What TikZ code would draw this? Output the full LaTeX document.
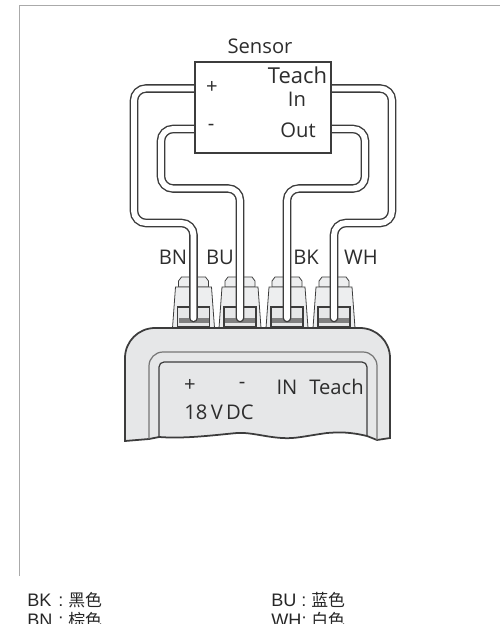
\documentclass[tikz,border=0pt]{standalone}
\usepackage{fontspec}
\setmainfont{Open Sans}
\newfontfamily\legendFont{Liberation Sans}
\newfontfamily\cjkFont{Noto Sans CJK SC}
\usetikzlibrary{positioning,backgrounds}
\definecolor{frameColor}{RGB}{170,170,170}
\definecolor{lineColor}{RGB}{60,60,60}
\definecolor{baseColor}{RGB}{230,231,232}
\definecolor{textColor}{RGB}{45,45,45}
\tikzstyle{diagram} = [x = .02cm, y = -.02cm]
\tikzstyle{frameLine} = [color=frameColor, line width=.8pt]
\tikzstyle{wireStyle} = [color=lineColor, double=white, double distance=3.3pt, line width=.8pt, rounded corners = .24cm, line cap=round]
\tikzstyle{sensorStyle} = [draw=lineColor, fill=white, line width=.8pt, minimum width=2.72cm, minimum height=1.82cm, inner sep=0pt]
\tikzstyle{baseLine} = [color=lineColor, fill=baseColor, line width=1pt]
\tikzstyle{grooveLine} = [color=lineColor, line width=.7pt]
\tikzstyle{plugBody} = [color=lineColor, fill=baseColor!70!white, line width=.45pt]
\tikzstyle{wireLabel} = [font=\fontsize{11.5}{12}\selectfont, text=textColor, inner sep=0pt]
\tikzstyle{legendText} = [font=\legendFont\fontsize{10.3}{11}\selectfont, text=black!85, inner sep=0pt, anchor=base west]
\tikzstyle{legendColour} = [font=\cjkFont\fontsize{9.6}{11}\selectfont, text=black!85, inner sep=0pt, anchor=base west]
\newcommand{\plug}[1]{
  \begin{scope}[shift={(#1,0)}]
    \filldraw [plugBody] (-15,287) -- (-15,281) -- (-12,277) -- (12,277) -- (15,281) -- (15,287) -- cycle;
    \filldraw [plugBody] (-18,287) -- (18,287) -- (21,328) -- (-21,328) -- cycle;
    \filldraw [plugBody, line width=.7pt, fill=baseColor] (-16,307) rectangle (16,327);
    \fill [color=black!50] (-15,318) rectangle (15,323);
  \end{scope}
}
\begin{document}
\begin{tikzpicture}[diagram]
  \useasboundingbox (0,0) rectangle (500,624);
  \draw [frameLine] (19.5,576) -- (19.5,5.5) -- (500,5.5);
  % sensor
  \node [sensorStyle] (sensor) at (263,107.5) {};
  \node [wireLabel] (sensorTitle) at (260,46) {Sensor};
  \node [wireLabel] (plusOut) at (212,87) {+};
  \node [wireLabel] (minusOut) at (211,127) {-};
  \node [wireLabel, font=\fontsize{12.5}{13}\selectfont] (teachOut) at (297.5,75) {Teach};
  \node [wireLabel] (inOut) at (297,99) {In};
  \node [wireLabel] (outOut) at (298,130) {Out};
  \coordinate (plusStart) at (sensor.west |- 0,88.5);
  \coordinate (minusStart) at (sensor.west |- 0,129);
  \coordinate (teachStart) at (sensor.east |- 0,88.5);
  \coordinate (outStart) at (sensor.east |- 0,129);
  \begin{scope}[on background layer]
    % connectors behind the wires
    \foreach \plugX in {193.5,240,287,334} {
      \plug{\plugX}
    }
    % base unit
    \filldraw [baseLine] (125,440) -- (125,358) arc (180:270:30) -- (360,328) arc (270:360:30) -- (390,438)
      -- (377,440) -- (367,436) .. controls (350,432) and (340,432) .. (327,433)
      .. controls (305,436) and (295,439) .. (282,438) .. controls (265,437) and (250,432) .. (237,433)
      .. controls (215,435) and (185,439) .. (159,437) -- (149,439) -- (125,441) -- cycle;
    \draw [grooveLine, color=lineColor!70] (149,439) -- (149,366) arc (180:270:14) -- (363,352) arc (270:360:14) -- (377,440);
    \draw [grooveLine] (159,437) -- (159,367) arc (180:270:5) -- (362,362) arc (270:360:5) -- (367,436);
    % wires
    \draw [wireStyle] (plusStart) -| (134,223) -| (193.5,318);
    \draw [wireStyle] (minusStart) -| (161,188.5) -| (240,318);
    \draw [wireStyle] (outStart) -| (365,188.5) -| (287,318);
    \draw [wireStyle] (teachStart) -| (392,223) -| (334,318);
  \end{scope}
  \node [wireLabel] (plusIn) at (190,385) {+};
  \node [wireLabel] (minusIn) at (242,385) {-};
  \node [wireLabel] (inLabel) at (287,387) {IN};
  \node [wireLabel] (teachLabel) at (336.5,387) {Teach};
  \node [wireLabel] (voltLabel) at (219,412) {18\,V\,DC};
  \node [wireLabel] (bnLabel) at (173,257) {BN};
  \node [wireLabel] (buLabel) at (220,257) {BU};
  \node [wireLabel] (bkLabel) at (306,257) {BK};
  \node [wireLabel] (whLabel) at (361,257) {WH};
  % legend
  \node [legendText] (bkLegend) at (27,606) {BK};
  \node [legendText] (bkColon) at (58,606) {:};
  \node [legendColour] (bkName) at (68,606) {黑色};
  \node [legendText] (bnLegend) at (27,626) {BN};
  \node [legendText] (bnColon) at (58,626) {:};
  \node [legendColour] (bnName) at (68,626) {棕色};
  \node [legendText] (buLegend) at (271,606) {BU};
  \node [legendText] (buColon) at (301,606) {:};
  \node [legendColour] (buName) at (311,606) {蓝色};
  \node [legendText] (whLegend) at (271,626) {WH:};
  \node [legendColour] (whName) at (311,626) {白色};
\end{tikzpicture}
\end{document}
